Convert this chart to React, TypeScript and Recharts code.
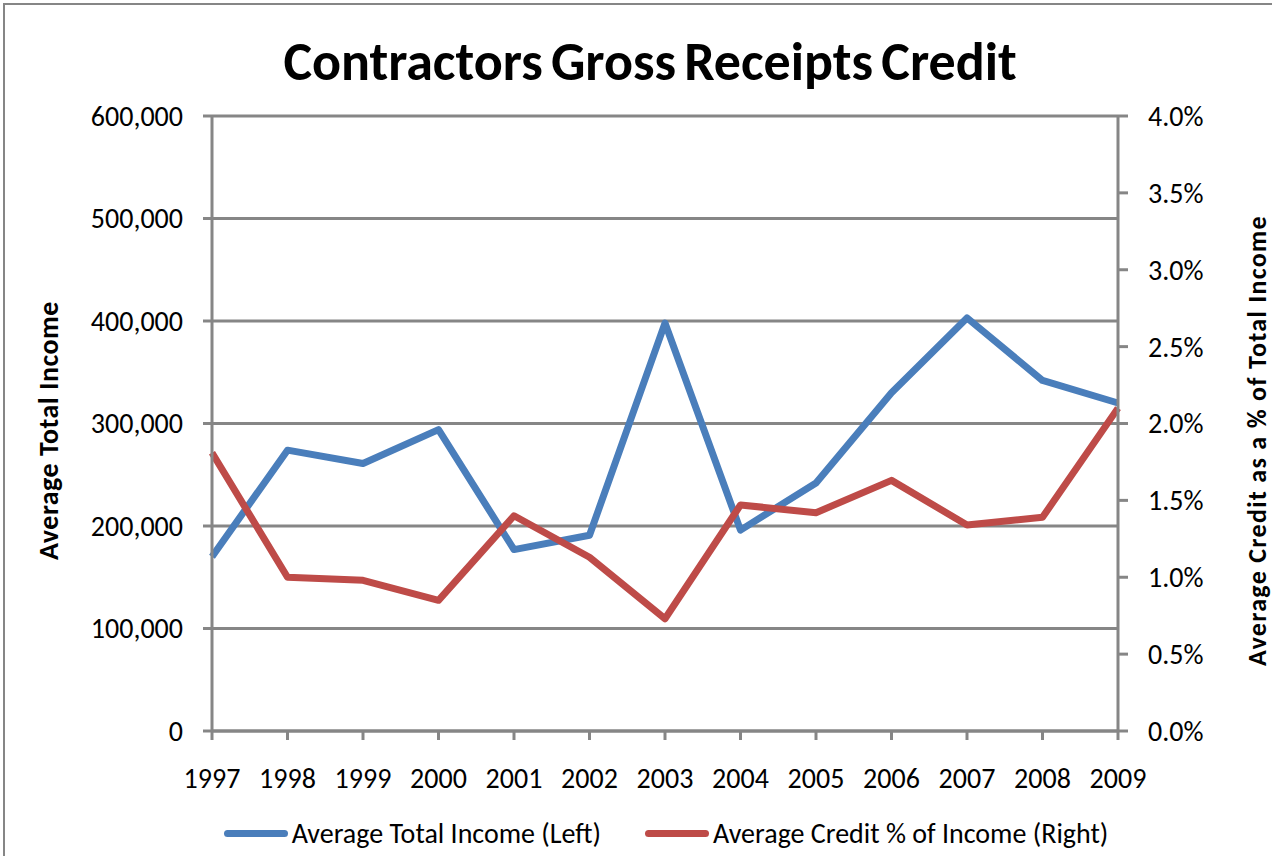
import { LineChart, Line, XAxis, YAxis, CartesianGrid, Legend } from 'recharts';

const years = ['1997', '1998', '1999', '2000', '2001', '2002', '2003', '2004', '2005', '2006', '2007', '2008', '2009'];
const avgIncome = [170000, 274000, 261000, 294000, 177000, 191000, 398000, 196000, 242000, 330000, 403000, 342000, 320000];
const creditPct = [1.81, 1.0, 0.98, 0.85, 1.4, 1.13, 0.73, 1.47, 1.42, 1.63, 1.34, 1.39, 2.1];
const leftTicks = [0, 100000, 200000, 300000, 400000, 500000, 600000];
const rightTicks = [0, 0.5, 1, 1.5, 2, 2.5, 3, 3.5, 4];

const FONT = 'Carlito, "Liberation Sans Narrow", Lato, "Open Sans", sans-serif';
const GRAY = '#868686';
const BLUE = '#4A7EBB';
const RED = '#BE4B48';

const data = years.map((year, i) => ({ year, income: avgIncome[i], credit: creditPct[i] }));

const legendItems = [
  { label: 'Average Total Income (Left)', color: BLUE },
  { label: 'Average Credit % of Income (Right)', color: RED },
];

function ChartLegend() {
  return (
    <div style={{ display: 'flex', justifyContent: 'center', paddingTop: 20, paddingLeft: 104, height: 45, fontFamily: FONT, fontSize: 28, lineHeight: '43px' }}>
      {legendItems.map((it) => (
        <div key={it.label} style={{ display: 'flex', alignItems: 'center', marginRight: 44 }}>
          <span style={{ display: 'inline-block', width: 64, height: 7, borderRadius: 4, background: it.color, marginRight: 4 }} />
          <span>{it.label}</span>
        </div>
      ))}
    </div>
  );
}

const tickStyle = { fill: '#000', fontSize: 28, fontFamily: FONT };
const leftLabelStyle = { textAnchor: 'middle', fontFamily: FONT, fontSize: 28, fontWeight: 'bold', fill: '#000', letterSpacing: 0.5 } as const;
const rightLabelStyle = { textAnchor: 'middle', fontFamily: FONT, fontSize: 26, fontWeight: 'bold', fill: '#000', letterSpacing: 1.3 } as const;

export default function App() {
  return (
    <div style={{ position: 'absolute', left: 0, top: 0, width: 1272, height: 856, background: '#fff', overflow: 'hidden' }}>
      <div style={{ position: 'absolute', left: 3, top: 3, width: 1280, height: 870, borderLeft: `2px solid ${GRAY}`, borderTop: `2px solid ${GRAY}` }} />
      <div style={{ position: 'absolute', left: 0, top: 30, width: 1300, textAlign: 'center', fontFamily: FONT, fontWeight: 'bold', fontSize: 54, lineHeight: '64px', wordSpacing: -4 }}>
        Contractors Gross Receipts Credit
      </div>
      <LineChart width={1272} height={856} data={data} margin={{ top: 116, right: 0, bottom: 0, left: 0 }} style={{ position: 'absolute', left: 0, top: 0 }}>
        <CartesianGrid yAxisId="left" vertical={false} stroke={GRAY} strokeWidth={3} />
        <XAxis
          dataKey="year"
          height={60}
          stroke={GRAY}
          strokeWidth={3}
          tickSize={9}
          tickMargin={28}
          tick={tickStyle}
          interval={0}
        />
        <YAxis
          yAxisId="left"
          width={212}
          domain={[0, 600000]}
          ticks={leftTicks}
          stroke={GRAY}
          strokeWidth={3}
          tickSize={9}
          tickMargin={20}
          tick={tickStyle}
          tickFormatter={(v: number) => v.toLocaleString('en-US')}
          label={{ value: 'Average Total  Income', angle: -90, position: 'insideLeft', offset: 48, dy: 7, style: leftLabelStyle }}
        />
        <YAxis
          yAxisId="right"
          orientation="right"
          width={154}
          domain={[0, 4]}
          ticks={rightTicks}
          stroke={GRAY}
          strokeWidth={3}
          tickSize={10}
          tickMargin={20}
          tick={tickStyle}
          tickFormatter={(v: number) => `${v.toFixed(1)}%`}
          label={{ value: 'Average Credit as a % of Total Income', angle: -90, position: 'insideRight', offset: 15, dy: 17, style: rightLabelStyle }}
        />
        <Legend verticalAlign="bottom" content={() => <ChartLegend />} />
        <Line yAxisId="left" dataKey="income" stroke={BLUE} strokeWidth={7} dot={false} strokeLinejoin="round" isAnimationActive={false} />
        <Line yAxisId="right" dataKey="credit" stroke={RED} strokeWidth={7} dot={false} strokeLinejoin="round" isAnimationActive={false} />
      </LineChart>
    </div>
  );
}
